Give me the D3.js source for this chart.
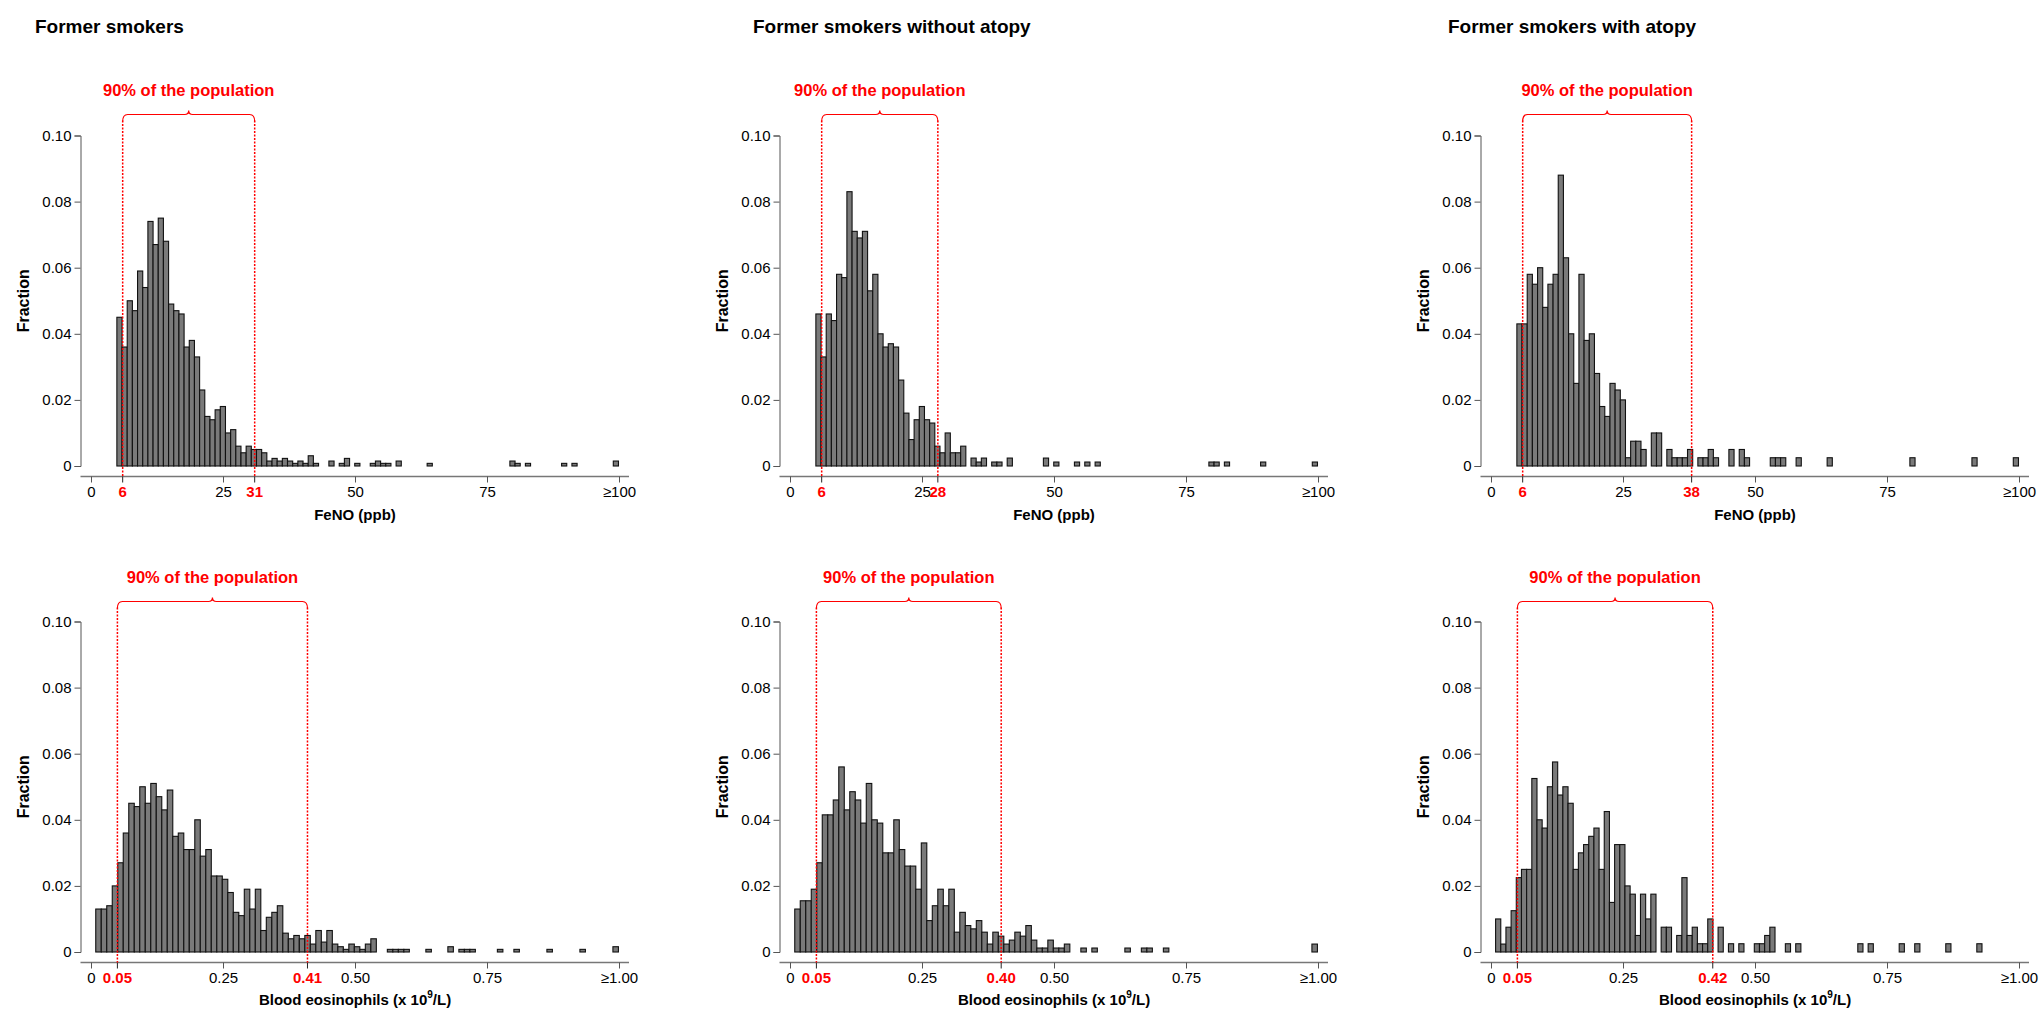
<!DOCTYPE html>
<meta charset="utf-8">
<script src="https://d3js.org/d3.v7.min.js"></script>
<style>
  body { margin: 0; background: #fff; }
  text { font-family: Arial, "Liberation Sans", sans-serif; }
</style>
<div id="my_dataviz"></div>
<script>

// ---- data: fraction per histogram bin ----
// FeNO bins: 97 bins from 5 to 100 ppb (last bin = >=100)
var fenoAll = [
  .045,.036,.050,.047,.059,.054,.074,.067,.075,.068,
  .049,.047,.046,.036,.038,.033,.023,.015,.014,.017,
  .018,.010,.011,.006,.004,.006,.005,.005,.004,.0015,
  .0023,.0015,.0023,.0015,.0008,.0015,.0008,.0031,.0008,0,
  0,.0015,0,.0008,.0023,0,.0008,0,0,.0008,
  .0015,.0008,.0008,0,.0015,0,0,0,0,0,
  .0008,0,0,0,0,0,0,0,0,0,
  0,0,0,0,0,0,.0015,.0008,0,.0008,
  0,0,0,0,0,0,.0008,0,.0008,0,
  0,0,0,0,0,0,.0015];
var fenoNoAtopy = [
  .046,.033,.046,.044,.058,.057,.083,.071,.069,.071,
  .053,.058,.040,.036,.037,.036,.026,.016,.008,.014,
  .018,.014,.013,.006,.004,.010,.004,.004,.006,0,
  .0024,.0012,.0024,0,.0012,.0012,0,.0024,0,0,
  0,0,0,0,.0024,0,.0012,0,0,0,
  .0012,0,.0012,0,.0012,0,0,0,0,0,
  0,0,0,0,0,0,0,0,0,0,
  0,0,0,0,0,0,.0012,.0012,0,.0012,
  0,0,0,0,0,0,.0012,0,0,0,
  0,0,0,0,0,0,.0012];
var fenoAtopy = [
  .043,.043,.058,.055,.060,.048,.055,.058,.088,.063,
  .040,.025,.058,.038,.040,.028,.018,.015,.025,.023,
  .020,.0025,.0075,.0075,.005,0,.010,.010,0,.005,
  .0025,.0025,.0025,.005,0,.0025,.0025,.005,.0025,0,
  0,.005,0,.005,.0025,0,0,0,0,.0025,
  .0025,.0025,0,0,.0025,0,0,0,0,0,
  .0025,0,0,0,0,0,0,0,0,0,
  0,0,0,0,0,0,.0025,0,0,0,
  0,0,0,0,0,0,0,0,.0025,0,
  0,0,0,0,0,0,.0025];

// Blood eosinophil bins (x10^9/L)
var eosAll = [
  .013,.013,.014,.020,.027,.036,.045,.044,.050,.045,
  .051,.047,.043,.049,.035,.036,.031,.031,.040,.029,
  .031,.023,.023,.022,.018,.012,.011,.019,.013,.019,
  .0065,.0105,.012,.014,.0057,.004,.005,.004,.005,.0024,
  .0065,.003,.0065,.0024,.0016,.0008,.0024,.0016,.0008,.0024,
  .004,0,0,.0008,.0008,.0008,.0008,0,0,0,
  .0008,0,0,0,.0016,0,.0008,.0008,.0008,0,
  0,0,0,.0008,0,0,.0008,0,0,0,
  0,0,.0008,0,0,0,0,0,.0008,0,
  0,0,0,0,.0016];
var eosNoAtopy = [
  .013,.0155,.0155,.019,.027,.0415,.0415,.046,.056,.043,
  .0485,.046,.039,.051,.040,.039,.030,.030,.040,.031,
  .026,.026,.019,.033,.0095,.014,.019,.014,.019,.006,
  .012,.008,.007,.0095,.006,.0024,.006,.0048,.0024,.0036,
  .006,.0048,.008,.0036,.0012,.0012,.0036,.0012,.0012,.0024,
  0,0,.0012,0,.0012,0,0,0,0,0,
  .0012,0,0,.0012,.0012,0,0,.0012,0,0,
  0,0,0,0,0,0,0,0,0,0,
  0,0,0,0,0,0,0,0,0,0,
  0,0,0,0,.0024];
var eosAtopy = [
  .010,.0024,.0075,.0125,.0225,.025,.025,.0525,.040,.0375,
  .050,.0575,.0475,.050,.045,.025,.030,.0325,.035,.0375,
  .025,.0425,.015,.0325,.0325,.020,.0175,.005,.0175,.010,
  .0175,0,.0075,.0075,0,.005,.0225,.005,.0075,.0025,
  .0025,.010,0,.0075,0,.0025,0,.0025,0,0,
  .0025,.0025,.005,.0075,0,0,.0025,0,.0025,0,
  0,0,0,0,0,0,0,0,0,0,
  .0025,0,.0025,0,0,0,0,0,.0025,0,
  0,.0025,0,0,0,0,0,.0025,0,0,
  0,0,0,.0025];

// titles, axis labels, ticks and 5th/95th percentiles
var titles = ["Former smokers", "Former smokers without atopy", "Former smokers with atopy"];
var fenoTicks = [0, 25, 50, 75, 100];
var fenoTickLabels = ["0", "25", "50", "75", "\u2265100"];
var eosTicks = [0, 0.25, 0.5, 0.75, 1];
var eosTickLabels = ["0", "0.25", "0.50", "0.75", "\u22651.00"];
var yTicks = [0, 0.02, 0.04, 0.06, 0.08, 0.10];
var fenoP5 = [6, 6, 6];
var fenoP95 = [31, 28, 38];
var eosP5 = [0.05, 0.05, 0.05];
var eosP95 = [0.41, 0.40, 0.42];
var bandLabel = "90% of the population";

// ---- layout ----
var width = 2042, height = 1011;
var colX = [91, 790, 1491];      // pixel of x = 0 in each column
var titleX = [35, 753, 1448];
var rowBase = [466, 952];         // pixel of fraction = 0
var plotW = 528, plotH = 330.5;
var red = "#ff0000";

var svg = d3.select("#my_dataviz")
  .append("svg")
    .attr("width", width)
    .attr("height", height);

var panels = [];
for (var c = 0; c < 3; c++) {
  panels.push({row: 0, col: c, data: [fenoAll, fenoNoAtopy, fenoAtopy][c],
    max: 100, start: 4.9, binW: 95 / 97, ticks: fenoTicks, tickLabels: fenoTickLabels,
    p5: fenoP5[c], p95: fenoP95[c], p5Label: "6", p95Label: String(fenoP95[c]), xTitle: "FeNO (ppb)"});
}
for (var c = 0; c < 3; c++) {
  panels.push({row: 1, col: c, data: [eosAll, eosNoAtopy, eosAtopy][c],
    max: 1, start: c == 2 ? 0.0087 : 0.009, binW: c == 2 ? 0.0098 : 0.01042,
    ticks: eosTicks, tickLabels: eosTickLabels,
    p5: eosP5[c], p95: eosP95[c], p5Label: "0.05", p95Label: d3.format(".2f")(eosP95[c]), xTitle: "eos"});
}

panels.forEach(function(p) {
  var base = rowBase[p.row];
  var x = d3.scaleLinear().domain([0, p.max]).range([colX[p.col], colX[p.col] + plotW]);
  var y = d3.scaleLinear().domain([0, 0.1]).range([base, base - plotH]);
  var g = svg.append("g");
  var axisY = base + 10.5;
  var leftX = colX[p.col] - 10.5;

  // title
  if (p.row == 0) {
    g.append("text")
      .attr("x", titleX[p.col]).attr("y", 33)
      .attr("font-size", 19).attr("font-weight", "bold")
      .text(titles[p.col]);
  }

  // bars
  var bins = p.data.map(function(v, i) { return {i: i, v: v}; }).filter(function(d) { return d.v > 0; });
  g.selectAll("rect.bar").data(bins).enter().append("rect")
    .attr("class", "bar")
    .attr("x", function(d) { return x(p.start + d.i * p.binW); })
    .attr("width", function(d) { return x(p.start + (d.i + 1) * p.binW) - x(p.start + d.i * p.binW); })
    .attr("y", function(d) { return y(d.v); })
    .attr("height", function(d) { return y(0) - y(d.v); })
    .attr("fill", "#7a7a7a")
    .attr("stroke", "#111")
    .attr("stroke-width", 1.1);

  // y axis
  var ya = g.append("g")
    .attr("transform", "translate(" + leftX + ",0)")
    .call(d3.axisLeft(y).tickValues(yTicks).tickSizeOuter(0).tickSize(6)
      .tickFormat(function(d) { return d === 0 ? "0" : d3.format(".2f")(d); }));
  ya.select(".domain").attr("stroke", "#555");
  ya.selectAll(".tick line").attr("stroke", "#555");
  ya.selectAll(".tick text").attr("font-size", 15).attr("fill", "#000")
    .attr("font-family", "Arial, 'Liberation Sans', sans-serif").attr("x", -9);

  g.append("text")
    .attr("transform", "translate(" + (colX[p.col] - 62) + "," + y(0.05) + ") rotate(-90)")
    .attr("text-anchor", "middle")
    .attr("font-size", 16).attr("font-weight", "bold")
    .text("Fraction");

  // x axis
  g.append("line")
    .attr("x1", leftX).attr("x2", x(p.max) + 10)
    .attr("y1", axisY).attr("y2", axisY)
    .attr("stroke", "#777").attr("stroke-width", 1.5);
  var xa = g.append("g")
    .attr("transform", "translate(0," + axisY + ")")
    .call(d3.axisBottom(x).tickValues(p.ticks).tickSize(6)
      .tickFormat(function(d, i) { return p.tickLabels[i]; }));
  xa.select(".domain").remove();
  xa.selectAll(".tick line").attr("stroke", "#555");
  xa.selectAll(".tick text").attr("font-size", 15).attr("fill", "#000")
    .attr("font-family", "Arial, 'Liberation Sans', sans-serif").attr("y", 10);

  // percentile markers on the axis
  [[p.p5, p.p5Label], [p.p95, p.p95Label]].forEach(function(m) {
    g.append("line")
      .attr("x1", x(m[0])).attr("x2", x(m[0]))
      .attr("y1", axisY).attr("y2", axisY + 6)
      .attr("stroke", "#222");
    g.append("text")
      .attr("x", x(m[0])).attr("y", axisY + 10)
      .attr("dy", "0.71em")
      .attr("text-anchor", "middle")
      .attr("font-size", 15).attr("font-weight", "bold").attr("fill", red)
      .text(m[1]);
  });

  // x title
  var xt = g.append("text")
    .attr("x", x(p.max / 2)).attr("y", p.row == 0 ? 520 : 1005)
    .attr("text-anchor", "middle")
    .attr("font-size", 15).attr("font-weight", "bold");
  if (p.row == 0) {
    xt.text(p.xTitle);
  } else {
    xt.append("tspan").text("Blood eosinophils (x 10");
    xt.append("tspan").attr("font-size", 10).attr("dy", -7).text("9");
    xt.append("tspan").attr("dy", 7).text("/L)");
  }

  // 90% band: dotted lines + brace + label
  var braceY = p.row == 0 ? 114.5 : 601.5;
  var xl = x(p.p5), xr = x(p.p95), xm = (xl + xr) / 2;
  [xl, xr].forEach(function(xx) {
    g.append("line")
      .attr("x1", xx).attr("x2", xx)
      .attr("y1", braceY + 6).attr("y2", axisY)
      .attr("stroke", red).attr("stroke-width", 1.5)
      .attr("stroke-dasharray", "2,1.5");
  });
  var brace = d3.path();
  brace.moveTo(xl, braceY + 7);
  brace.quadraticCurveTo(xl, braceY, xl + 5, braceY);
  brace.lineTo(xm - 4, braceY);
  brace.quadraticCurveTo(xm, braceY, xm, braceY - 4);
  brace.quadraticCurveTo(xm, braceY, xm + 4, braceY);
  brace.lineTo(xr - 5, braceY);
  brace.quadraticCurveTo(xr, braceY, xr, braceY + 7);
  g.append("path")
    .attr("d", brace.toString())
    .attr("fill", "none").attr("stroke", red).attr("stroke-width", 1.2);
  g.append("text")
    .attr("x", xm).attr("y", braceY - 19)
    .attr("text-anchor", "middle")
    .attr("font-size", 16.5).attr("font-weight", "bold").attr("fill", red)
    .text(bandLabel);
});

</script>
